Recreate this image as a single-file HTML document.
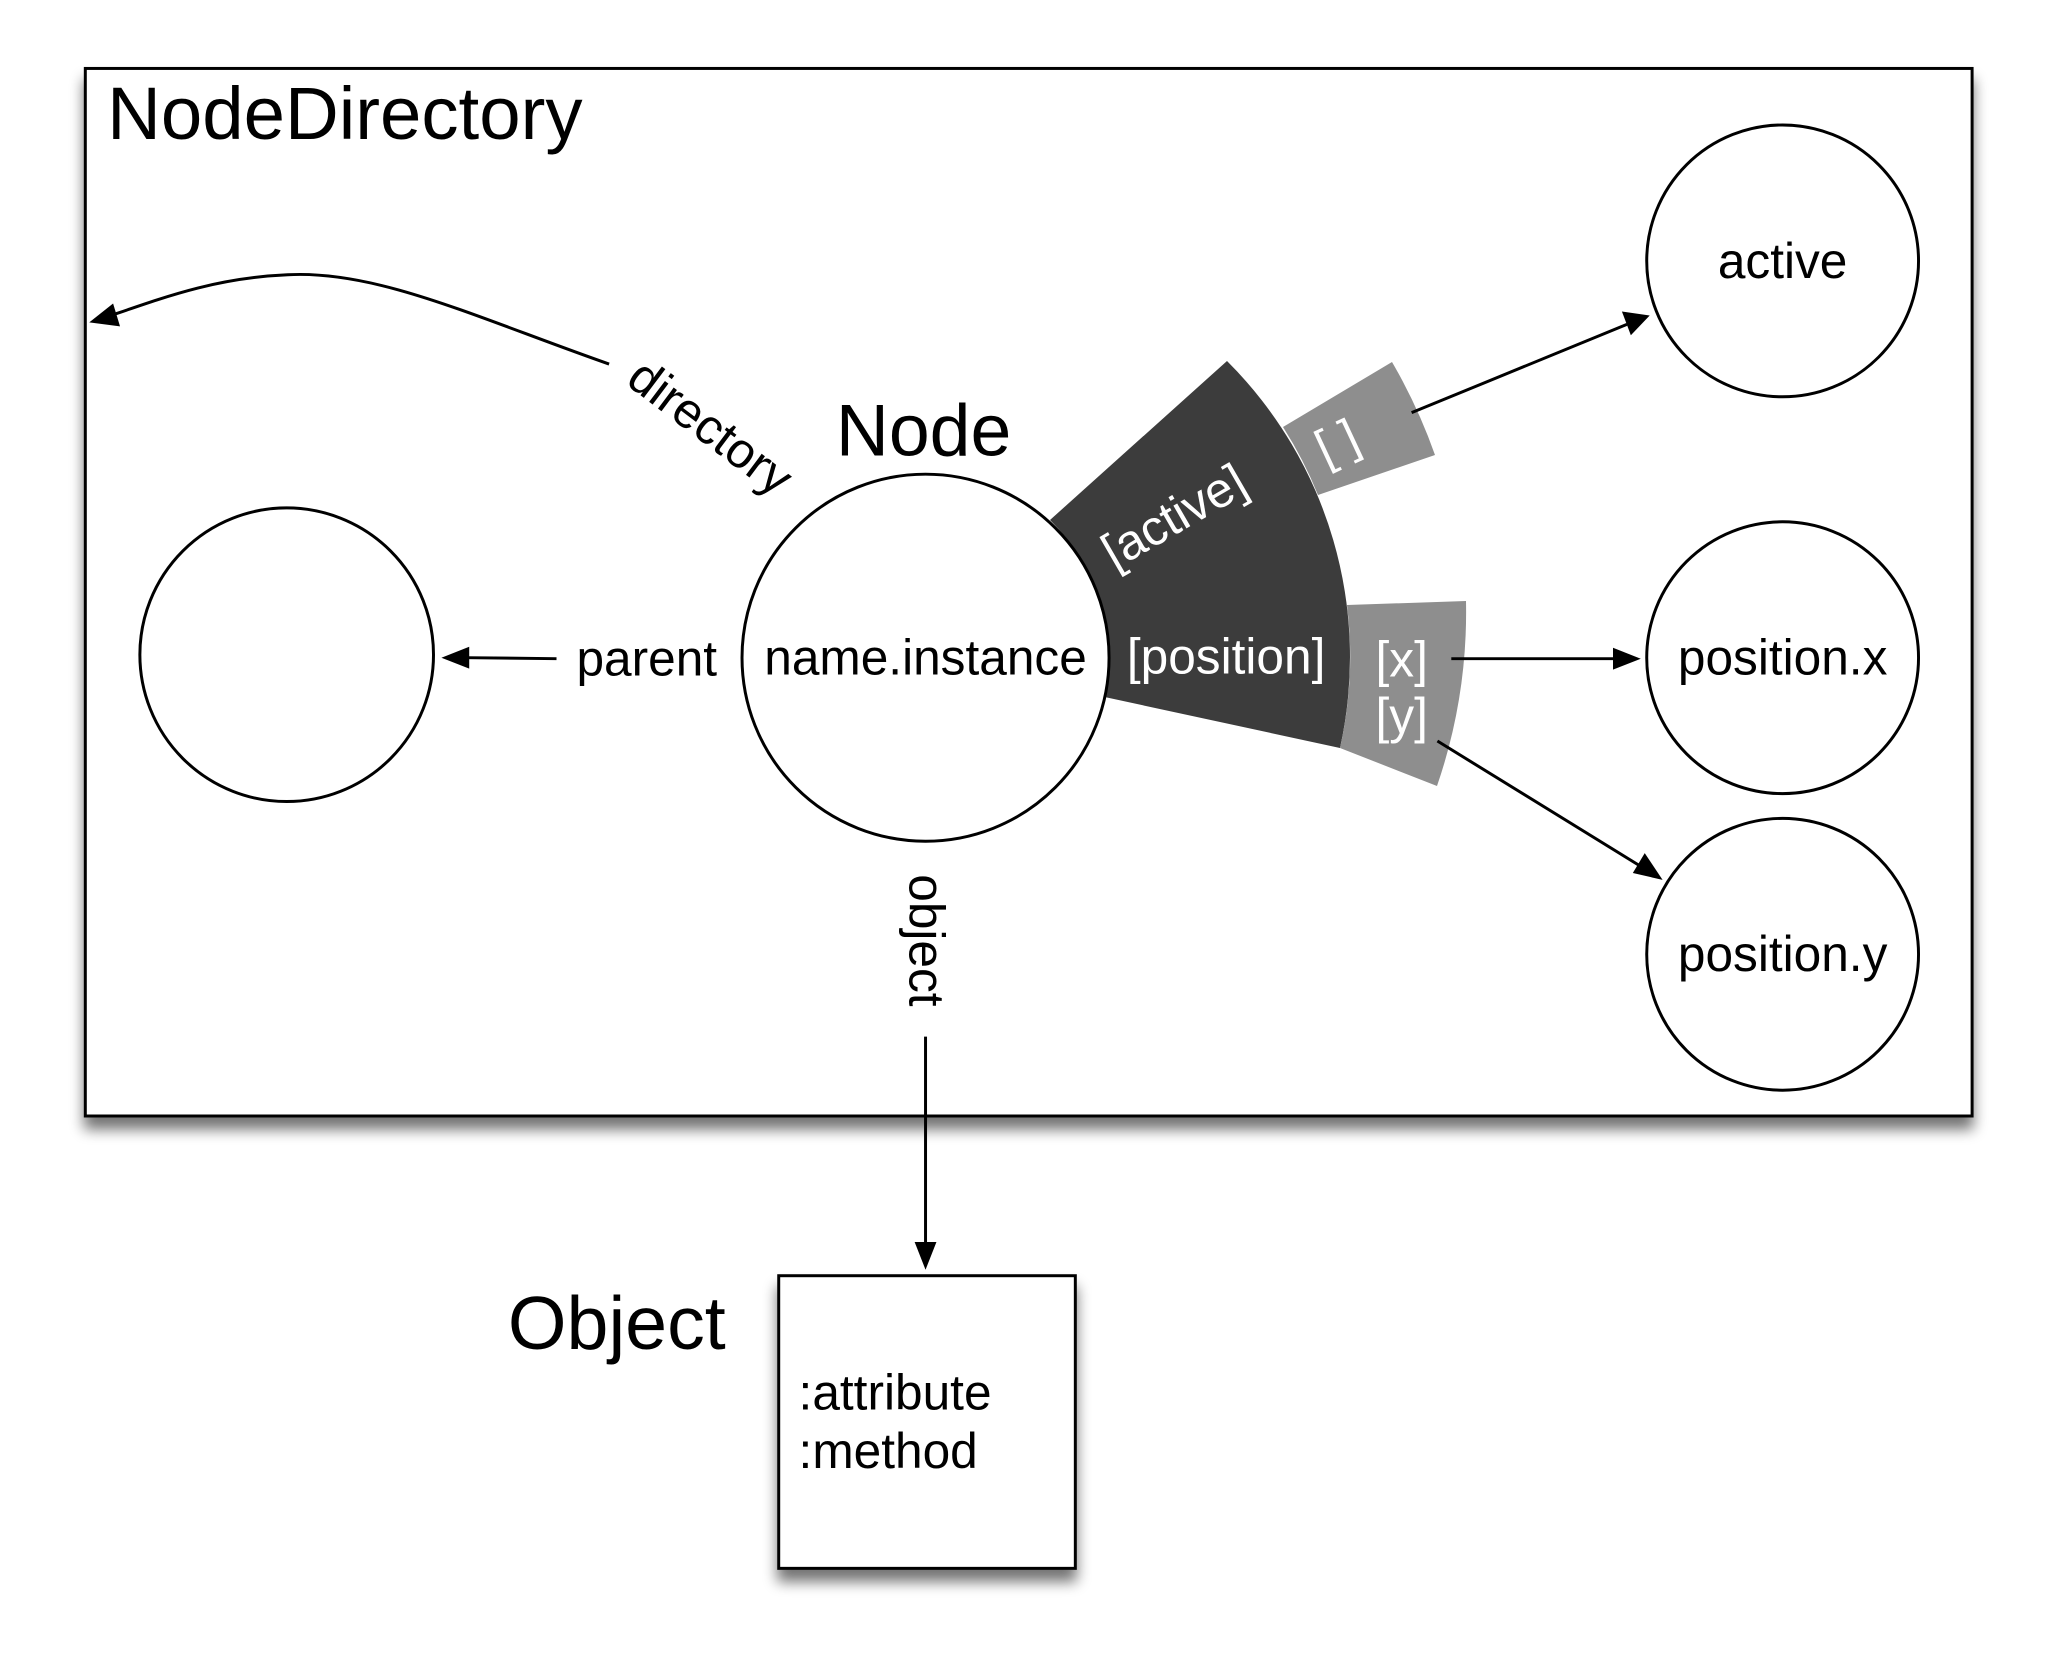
<!DOCTYPE html>
<html><head><meta charset="utf-8"><style>
html,body{margin:0;padding:0;background:#fff;}
svg{display:block;}
text{font-family:"Liberation Sans",Arial,sans-serif;}
</style></head><body>
<svg width="2054" height="1670" viewBox="0 0 2054 1670" xmlns="http://www.w3.org/2000/svg">
<defs>
<filter id="sh" x="-10%" y="-10%" width="120%" height="130%">
<feGaussianBlur in="SourceAlpha" stdDeviation="7"/>
<feOffset dx="0" dy="12" result="b"/>
<feComponentTransfer><feFuncA type="linear" slope="0.55"/></feComponentTransfer>
<feMerge><feMergeNode/><feMergeNode in="SourceGraphic"/></feMerge>
</filter>
</defs>
<g transform="scale(0.992)">
<rect x="86" y="69" width="1902" height="1056" fill="#fff" stroke="#000" stroke-width="3" filter="url(#sh)"/>
<rect x="785" y="1286" width="299" height="295" fill="#fff" stroke="#000" stroke-width="3" filter="url(#sh)"/>
</g>

<g>
<path d="M1227,361 A418,418 0 0 1 1340,748 L1100,696 A185,185 0 0 0 1050,520 Z" fill="#3c3c3c"/>
<path d="M1283,427 L1392,362 A545,545 0 0 1 1435,455 L1318,495 A418,418 0 0 0 1283,427 Z" fill="#8e8e8e"/>
<path d="M1347,605 L1466,601 A535,535 0 0 1 1437,786 L1340,748 A418,418 0 0 0 1347,605 Z" fill="#8e8e8e"/>
</g>

<g transform="scale(0.992)">
<text x="108" y="140" font-size="75">NodeDirectory</text>

<circle cx="289" cy="660" r="148" fill="#fff" stroke="#000" stroke-width="3"/>
<circle cx="933" cy="663" r="185" fill="#fff" stroke="#000" stroke-width="3"/>
<circle cx="1797" cy="263" r="137" fill="#fff" stroke="#000" stroke-width="3"/>
<circle cx="1797" cy="663" r="137" fill="#fff" stroke="#000" stroke-width="3"/>
<circle cx="1797" cy="962" r="137" fill="#fff" stroke="#000" stroke-width="3"/>

<text x="931" y="459" font-size="74" text-anchor="middle">Node</text>
<text x="933" y="680" font-size="50" text-anchor="middle">name.instance</text>
<text x="1797" y="280" font-size="50" text-anchor="middle">active</text>
<text x="1797" y="680" font-size="50" text-anchor="middle">position.x</text>
<text x="1797" y="979" font-size="50" text-anchor="middle">position.y</text>

<text fill="#fff" font-size="50" text-anchor="middle" transform="translate(1192,535) rotate(-30)">[active]</text>
<text fill="#fff" font-size="50" text-anchor="middle" transform="translate(1355,461) rotate(-25)">[ ]</text>
<text x="1236" y="679" fill="#fff" font-size="50" text-anchor="middle">[position]</text>
<text x="1413" y="682" fill="#fff" font-size="50" text-anchor="middle">[x]</text>
<text x="1413" y="739" fill="#fff" font-size="50" text-anchor="middle">[y]</text>

<g stroke="#000" stroke-width="3" fill="none">
<line x1="1423" y1="416" x2="1640" y2="327"/>
<line x1="1463" y1="664" x2="1630" y2="664"/>
<line x1="1449" y1="747" x2="1655" y2="874"/>
<line x1="561" y1="664" x2="470" y2="663"/>
<line x1="933" y1="1045" x2="933" y2="1256"/>
<path d="M614,367 C480,320 380,272 290,277 C220,280 170,298 112,318"/>
</g>
<g fill="#000">
<polygon points="1663,318 1635,314 1644,338"/>
<polygon points="1654,664 1626,653 1626,675"/>
<polygon points="1676,887 1646,880 1658,860"/>
<polygon points="445,663 473,652 473,674"/>
<polygon points="933,1280 922,1252 944,1252"/>
<polygon points="90,325 114,306 121,329"/>
</g>

<text x="652" y="681" font-size="50" text-anchor="middle">parent</text>
<text font-size="50" text-anchor="middle" transform="translate(917,948) rotate(90)">object</text>
<text font-size="50" text-anchor="middle" transform="translate(706,444) rotate(37)">directory</text>

<text x="512" y="1360" font-size="76">Object</text>
<text x="805" y="1421" font-size="50">:attribute</text>
<text x="805" y="1480" font-size="50">:method</text>
</g>
</svg>
</body></html>
